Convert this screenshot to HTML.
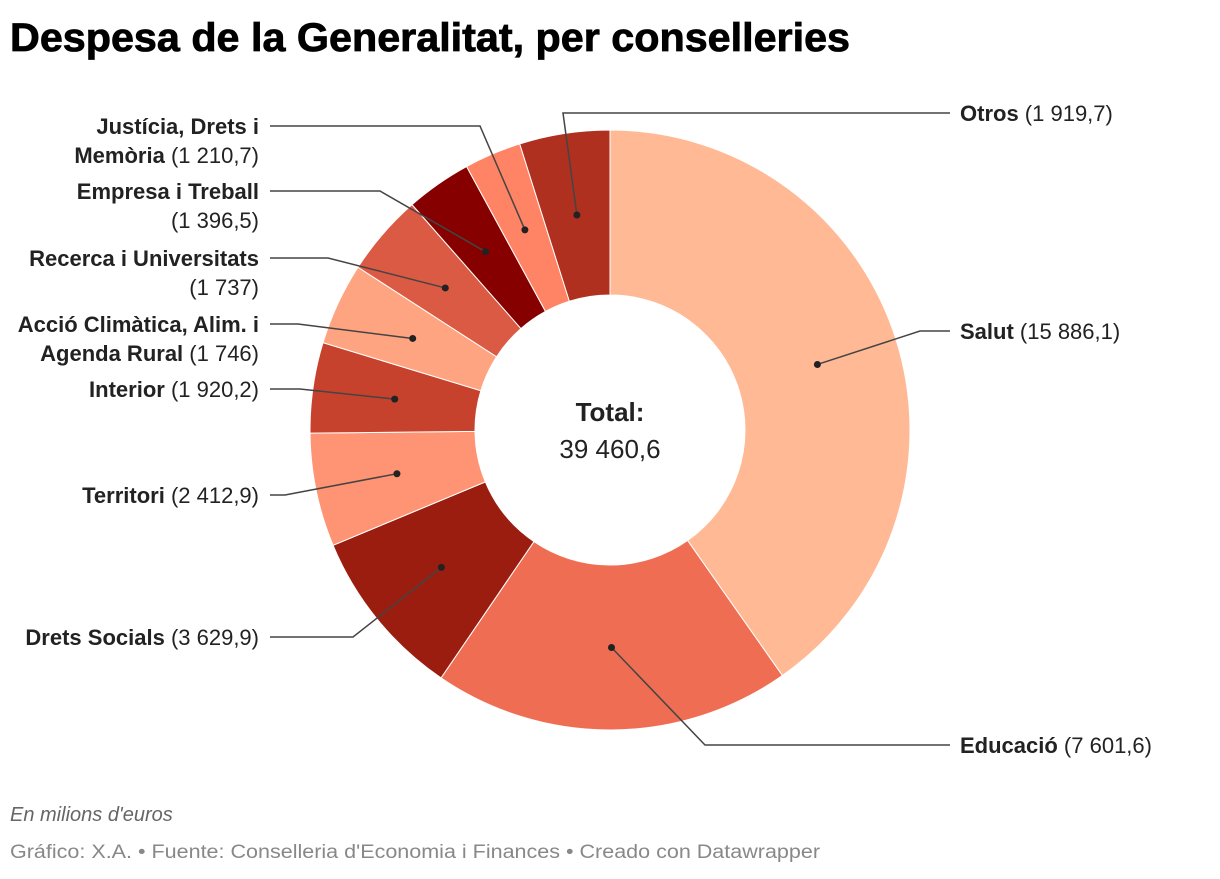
<!DOCTYPE html>
<html><head><meta charset="utf-8"><style>
body{margin:0;background:#fff;width:1220px;height:874px;overflow:hidden;font-family:"Liberation Sans",sans-serif}
</style></head><body>
<svg id="chart" width="1220" height="874" xmlns="http://www.w3.org/2000/svg" font-family="Liberation Sans, sans-serif">
<text x="10" y="51" font-size="40" font-weight="bold" fill="#000" stroke="#000" stroke-width="0.8" textLength="840" lengthAdjust="spacingAndGlyphs">Despesa de la Generalitat, per conselleries</text>
<g id="slices"></g>
<g id="labels"></g>
<text x="610" y="421" font-size="26" font-weight="bold" text-anchor="middle" fill="#222">Total:</text>
<text x="610" y="458" font-size="26" text-anchor="middle" fill="#222">39 460,6</text>
<text x="10" y="821" font-size="20" font-style="italic" fill="#666">En milions d'euros</text>
<text x="10" y="858" font-size="19" fill="#888" textLength="810" lengthAdjust="spacingAndGlyphs">Gráfico: X.A. • Fuente: Conselleria d'Economia i Finances • Creado con Datawrapper</text>
</svg>
<script>
const categories=["Salut","Educació","Drets Socials","Territori","Interior","Acció Climàtica, Alim. i|Agenda Rural","Recerca i Universitats|","Empresa i Treball|","Justícia, Drets i|Memòria","Otros"];
const values=[15886.1,7601.6,3629.9,2412.9,1920.2,1746,1737,1396.5,1210.7,1919.7];
const valueLabels=["15 886,1","7 601,6","3 629,9","2 412,9","1 920,2","1 746","1 737","1 396,5","1 210,7","1 919,7"];
const colors=["#ffb995","#ef6e53","#9a1d10","#fe9474","#c7422c","#fea481","#db5a43","#870000","#ff8466","#b03020"];
// layout: label side, line y, elbow x
const layout=[["r",331,920],["r",745,705],["l",637,353],["l",495,285],["l",389,300],["l",324,298],["l",258,328],["l",191,380],["l",126,480],["r",113,563]];
const NS="http://www.w3.org/2000/svg";
const cx=610,cy=430,R=300,r=135;
const total=values.reduce((a,b)=>a+b,0);
const pt=(a,rad)=>[cx+rad*Math.sin(a),cy-rad*Math.cos(a)];
const gS=document.getElementById('slices'),gL=document.getElementById('labels');
let acc=0;
values.forEach((v,i)=>{
  const a0=acc/total*2*Math.PI; acc+=v; const a1=acc/total*2*Math.PI;
  const big=(a1-a0)>Math.PI?1:0;
  const p1=pt(a0,R),p2=pt(a1,R),p3=pt(a1,r),p4=pt(a0,r);
  const p=document.createElementNS(NS,'path');
  p.setAttribute('d',`M${p1}A${R},${R} 0 ${big} 1 ${p2}L${p3}A${r},${r} 0 ${big} 0 ${p4}Z`);
  p.setAttribute('fill',colors[i]);p.setAttribute('stroke','#fff');p.setAttribute('stroke-width','1');
  
  
  gS.appendChild(p);
  const d=pt((a0+a1)/2,(R+r)/2);
  const [side,ly,ex]=layout[i];
  const endx=side==='r'?950:270;
  const l=document.createElementNS(NS,'polyline');
  l.setAttribute('points',`${d} ${ex},${ly} ${endx},${ly}`);
  l.setAttribute('fill','none');l.setAttribute('stroke','#444');l.setAttribute('stroke-width','1.5');
  
  
  gL.appendChild(l);
  const c=document.createElementNS(NS,'circle');
  c.setAttribute('cx',d[0]);c.setAttribute('cy',d[1]);c.setAttribute('r','3.5');c.setAttribute('fill','#222');
  
  
  gL.appendChild(c);
  const parts=categories[i].split('|');
  const t=document.createElementNS(NS,'text');
  t.setAttribute('font-size','22');t.setAttribute('fill','#222');
  
  
  const x=side==='r'?960:259;
  t.setAttribute('text-anchor',side==='r'?'start':'end');
  const lines=parts.length===1?[[parts[0],' ('+valueLabels[i]+')']]:
    (parts[1]===''?[[parts[0],''],['','('+valueLabels[i]+')']]:[[parts[0],''],[parts[1],' ('+valueLabels[i]+')']]);
  lines.forEach((ln,k)=>{
    const ts=document.createElementNS(NS,'tspan');
    ts.setAttribute('x',x);ts.setAttribute('y',ly+8+k*29);
    if(ln[0]){const b=document.createElementNS(NS,'tspan');b.setAttribute('font-weight','bold');b.textContent=ln[0];ts.appendChild(b);}
    if(ln[1]){const n=document.createElementNS(NS,'tspan');n.textContent=ln[1];ts.appendChild(n);}
    t.appendChild(ts);
  });
  gL.appendChild(t);
});
</script>
</body></html>
